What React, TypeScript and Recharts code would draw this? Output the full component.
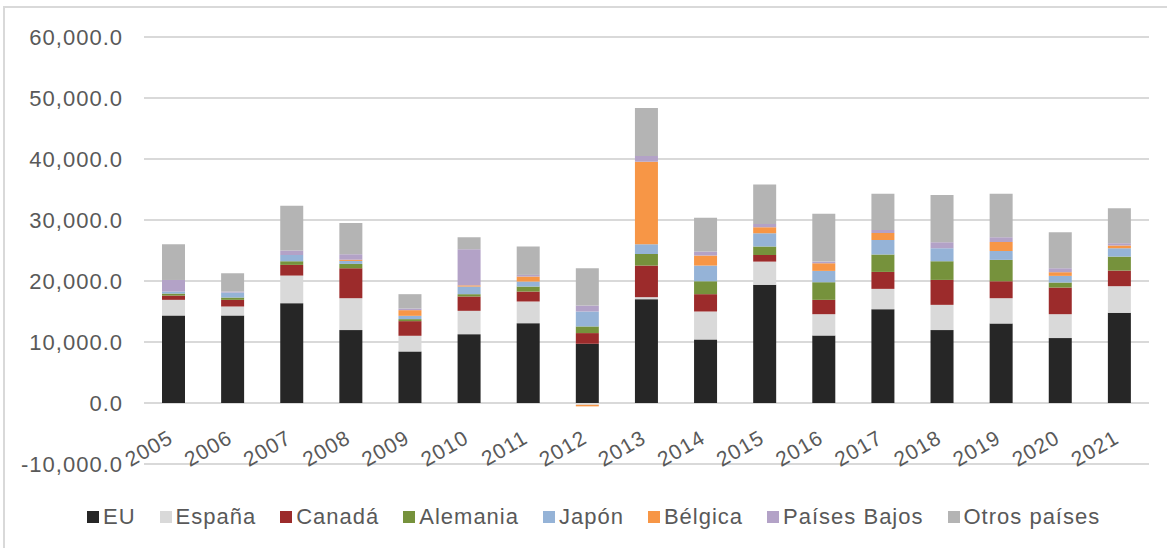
import React from 'react';
import { BarChart, Bar, XAxis, YAxis, CartesianGrid } from 'recharts';

const years = ['2005', '2006', '2007', '2008', '2009', '2010', '2011', '2012', '2013', '2014', '2015', '2016', '2017', '2018', '2019', '2020', '2021'];

const eu = [14350, 14350, 16370, 11950, 8460, 11290, 13090, 9710, 17020, 10420, 19370, 11070, 15380, 11950, 13040, 10640, 14780];
const espana = [2560, 1470, 4520, 5230, 2560, 3820, 3550, -300, 330, 4580, 3810, 3490, 3330, 4140, 4140, 3920, 4370];
const canada = [700, 1090, 1750, 4910, 2400, 2350, 1630, 1750, 5180, 2840, 1090, 2350, 2780, 4090, 2780, 4370, 2560];
const alemania = [330, 380, 600, 710, 330, 380, 820, 1090, 1910, 2120, 1370, 2890, 2840, 3060, 3500, 820, 2290];
const japon = [320, 820, 1030, 490, 540, 1250, 820, 2450, 1580, 2570, 2180, 1860, 2400, 2130, 1470, 1090, 1370];
const belgica = [0, 0, 0, 200, 930, 200, 820, -250, 13530, 1640, 980, 1250, 1140, 0, 1470, 600, 430];
const paisesBajos = [1910, 160, 710, 890, 270, 5910, 270, 980, 930, 650, 550, 270, 500, 980, 770, 650, 380];
const otros = [5840, 3000, 7370, 5130, 2350, 1970, 4640, 6110, 7880, 5560, 6490, 7860, 5940, 7740, 7140, 5890, 5730];

const yTicks = [-10000, 0, 10000, 20000, 30000, 40000, 50000, 60000];

const series = [
  { key: 'eu', name: 'EU', color: '#262626', values: eu },
  { key: 'espana', name: 'España', color: '#d9d9d9', values: espana },
  { key: 'canada', name: 'Canadá', color: '#9c2b2b', values: canada },
  { key: 'alemania', name: 'Alemania', color: '#76923c', values: alemania },
  { key: 'japon', name: 'Japón', color: '#95b3d7', values: japon },
  { key: 'belgica', name: 'Bélgica', color: '#f79646', values: belgica },
  { key: 'paisesBajos', name: 'Países Bajos', color: '#b3a2c7', values: paisesBajos },
  { key: 'otros', name: 'Otros países', color: '#b4b4b4', values: otros },
];

const data = years.map((year, i) => {
  const row: Record<string, string | number> = { year };
  series.forEach((s) => {
    row[s.key] = s.values[i];
  });
  return row;
});

const FONT = '"Liberation Sans", Arial, Helvetica, sans-serif';
const TEXT = '#595959';

const fmtValue = (v: number) =>
  v.toLocaleString('en-US', { minimumFractionDigits: 1, maximumFractionDigits: 1 });

const ValueTick = ({ x, y, payload }: any) => (
  <text x={x} y={y} dy="0.36em" textAnchor="end" fill={TEXT} fontSize={22} fontFamily={FONT} letterSpacing={1}>
    {fmtValue(payload.value)}
  </text>
);

// year labels sit just under the zero line, tilted like the spreadsheet original
const YearTick = ({ x, y, payload }: any) => {
  const ty = y - 22;
  return (
    <text
      x={x + 1}
      y={ty}
      transform={`rotate(-30, ${x + 1}, ${ty})`}
      textAnchor="end"
      fill={TEXT}
      fontSize={21}
      fontFamily={FONT}
      letterSpacing={1}
    >
      {payload.value}
    </text>
  );
};

export default function App() {
  return (
    <div
      style={{
        position: 'fixed',
        left: 0,
        top: 0,
        width: 1167,
        height: 548,
        overflow: 'hidden',
        background: '#fff',
        fontFamily: FONT,
      }}
    >
      <div
        style={{
          position: 'absolute',
          left: 3,
          top: 6,
          width: 1300,
          height: 700,
          borderLeft: '2px solid #d9d9d9',
          borderTop: '2px solid #d9d9d9',
        }}
      />
      <div style={{ position: 'absolute', left: 0, top: 0 }}>
        <BarChart
          width={1167}
          height={548}
          data={data}
          stackOffset="sign"
          barSize={23}
          margin={{ top: 37, right: 18, bottom: 54, left: 0 }}
        >
          <CartesianGrid vertical={false} stroke="#d9d9d9" strokeWidth={2} />
          <XAxis
            dataKey="year"
            axisLine={false}
            tickLine={false}
            tickSize={0}
            tickMargin={0}
            height={30}
            interval={0}
            tick={<YearTick />}
          />
          <YAxis
            domain={[-10000, 60000]}
            ticks={yTicks}
            allowDataOverflow
            axisLine={false}
            tickLine={false}
            tickSize={0}
            tickMargin={21}
            width={144}
            tick={<ValueTick />}
          />
          {series.map((s) => (
            <Bar key={s.key} dataKey={s.key} name={s.name} stackId="total" fill={s.color} isAnimationActive={false} />
          ))}
        </BarChart>
      </div>
      <div
        style={{
          position: 'absolute',
          left: 87,
          top: 504,
          height: 26,
          display: 'flex',
          alignItems: 'center',
          gap: 24,
          color: TEXT,
          fontSize: 22,
          letterSpacing: 1,
          whiteSpace: 'nowrap',
        }}
      >
        {series.map((s) => (
          <div key={s.key} style={{ display: 'flex', alignItems: 'center' }}>
            <span style={{ width: 12, height: 12, background: s.color, marginRight: 4, display: 'inline-block' }} />
            <span>{s.name}</span>
          </div>
        ))}
      </div>
    </div>
  );
}
